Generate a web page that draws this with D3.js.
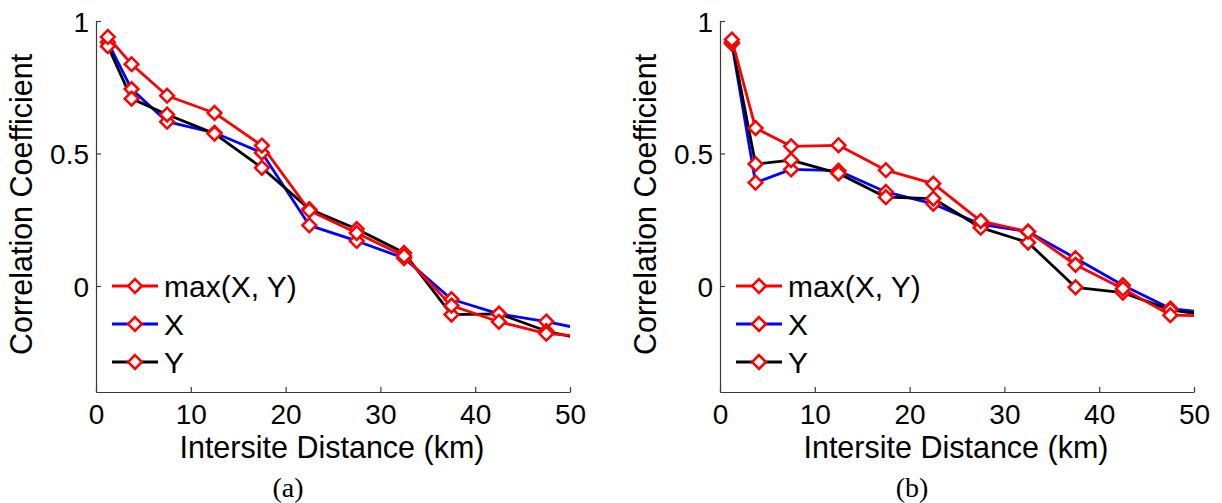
<!DOCTYPE html>
<html>
<head>
<meta charset="utf-8">
<script src="https://cdn.jsdelivr.net/npm/d3@7"></script>
<style>
  body { margin: 0; background: #fff; }
  svg { display: block; font-family: 'Liberation Sans', Arial, sans-serif; }
</style>
</head>
<body>
<svg id="chart" width="1222" height="503"></svg>
<script>
// bin centres (km); last one sits past the axis and gets clipped
const distances = [1.25, 3.75, 7.5, 12.5, 17.5, 22.5, 27.5, 32.5, 37.5, 42.5, 47.5, 52.5];

// panel (a)
const corrMaxA = [0.94, 0.837, 0.718, 0.653, 0.53, 0.285, 0.2, 0.113, -0.074, -0.135, -0.18, -0.192];
const corrXA = [0.92, 0.743, 0.62, 0.578, 0.503, 0.229, 0.17, 0.105, -0.05, -0.105, -0.134, -0.172];
const corrYA = [0.905, 0.707, 0.647, 0.575, 0.446, 0.29, 0.215, 0.125, -0.108, -0.105, -0.17, -0.21];

// panel (b)
const corrMaxB = [0.93, 0.596, 0.527, 0.531, 0.437, 0.386, 0.245, 0.205, 0.08, -0.01, -0.11, -0.114];
const corrXB = [0.915, 0.39, 0.44, 0.435, 0.355, 0.31, 0.233, 0.205, 0.105, 0.003, -0.085, -0.105];
const corrYB = [0.92, 0.46, 0.475, 0.425, 0.335, 0.33, 0.22, 0.164, -0.005, -0.025, -0.09, -0.116];

const seriesNames = ['max(X, Y)', 'X', 'Y'];
const xTicks = [0, 10, 20, 30, 40, 50];
const yTicks = [0, 0.5, 1];
const panelLabels = ['(a)', '(b)'];

const svg = d3.select('#chart');

const TOP = 21;
const BOTTOM = 392;
const PLOT_W = 474;
const AXIS_COLOR = '#3a3a3a';
const lineColors = ['#ff0000', '#0000ff', '#000000'];

const drawPanel = (left, series, label, idx) => {
  const x = d3.scaleLinear().domain([0, 50]).range([left, left + PLOT_W]);
  const y = d3.scaleLinear().domain([-0.4, 1]).range([BOTTOM, TOP]);

  const g = svg.append('g');

  const clipId = 'clip' + idx;
  svg.append('clipPath').attr('id', clipId)
    .append('rect')
    .attr('x', left).attr('y', TOP - 10)
    .attr('width', PLOT_W).attr('height', BOTTOM - TOP + 10);

  // axes: left and bottom only, ticks inward
  const xAxis = g.append('g')
    .attr('transform', `translate(0, ${BOTTOM})`)
    .call(d3.axisBottom(x).tickValues(xTicks).tickSizeInner(-5).tickSizeOuter(0).tickPadding(12));
  const yAxis = g.append('g')
    .attr('transform', `translate(${left}, 0)`)
    .call(d3.axisLeft(y).tickValues(yTicks).tickFormat(d3.format('~g'))
      .tickSizeInner(-5).tickSizeOuter(0).tickPadding(7));

  [xAxis, yAxis].forEach((a) => {
    a.select('.domain').attr('stroke', AXIS_COLOR).attr('stroke-width', 1.2);
    a.selectAll('.tick line').attr('stroke', AXIS_COLOR).attr('stroke-width', 1.2);
    a.selectAll('.tick text')
      .attr('fill', '#000')
      .style('font-size', '28px')
      .style('font-family', "'Liberation Sans', Arial, sans-serif");
  });
  xAxis.selectAll('.tick text').attr('dy', '0.71em');
  yAxis.selectAll('.tick text').attr('dy', '0.36em');

  g.append('text')
    .attr('x', left + PLOT_W / 2 - 1)
    .attr('y', 458)
    .attr('text-anchor', 'middle')
    .style('font-size', '30.5px')
    .text('Intersite Distance (km)');

  g.append('text')
    .attr('transform', `translate(${left - 64}, ${(TOP + BOTTOM) / 2 - 2}) rotate(-90)`)
    .attr('text-anchor', 'middle')
    .style('font-size', '30.5px')
    .text('Correlation Coefficient');

  g.append('text')
    .attr('x', left + PLOT_W / 2 - 45)
    .attr('y', 497)
    .attr('text-anchor', 'middle')
    .style('font-family', "'Liberation Serif', 'Times New Roman', serif")
    .style('font-size', '28px')
    .text(label);

  const line = d3.line().x((d, i) => x(distances[i])).y((d) => y(d));
  const diamond = d3.symbol().type(d3.symbolDiamond2).size(120);

  const plot = g.append('g').attr('clip-path', `url(#${clipId})`);
  // draw blue, black, then red on top
  [1, 2, 0].forEach((k) => {
    plot.append('path')
      .datum(series[k])
      .attr('fill', 'none')
      .attr('stroke', lineColors[k])
      .attr('stroke-width', 2.8)
      .attr('stroke-linejoin', 'round')
      .attr('d', line);
  });
  [1, 2, 0].forEach((k) => {
    plot.selectAll(null)
      .data(series[k])
      .enter()
      .append('path')
      .attr('d', diamond)
      .attr('transform', (d, i) => `translate(${x(distances[i])}, ${y(d)})`)
      .attr('fill', '#fff')
      .attr('stroke', '#ff0000')
      .attr('stroke-width', 2.5);
  });

  // legend
  const leg = g.append('g');
  seriesNames.forEach((name, k) => {
    const ly = y(0) + k * 38;
    leg.append('line')
      .attr('x1', left + 16).attr('x2', left + 62)
      .attr('y1', ly).attr('y2', ly)
      .attr('stroke', lineColors[k])
      .attr('stroke-width', 2.8);
    leg.append('path')
      .attr('d', diamond)
      .attr('transform', `translate(${left + 39}, ${ly})`)
      .attr('fill', '#fff')
      .attr('stroke', '#ff0000')
      .attr('stroke-width', 2.5);
    leg.append('text')
      .attr('x', left + 68)
      .attr('y', ly)
      .attr('dy', '0.36em')
      .style('font-size', '30px')
      .text(name);
  });
};

drawPanel(96, [corrMaxA, corrXA, corrYA], panelLabels[0], 0);
drawPanel(720, [corrMaxB, corrXB, corrYB], panelLabels[1], 1);
</script>
</body>
</html>
